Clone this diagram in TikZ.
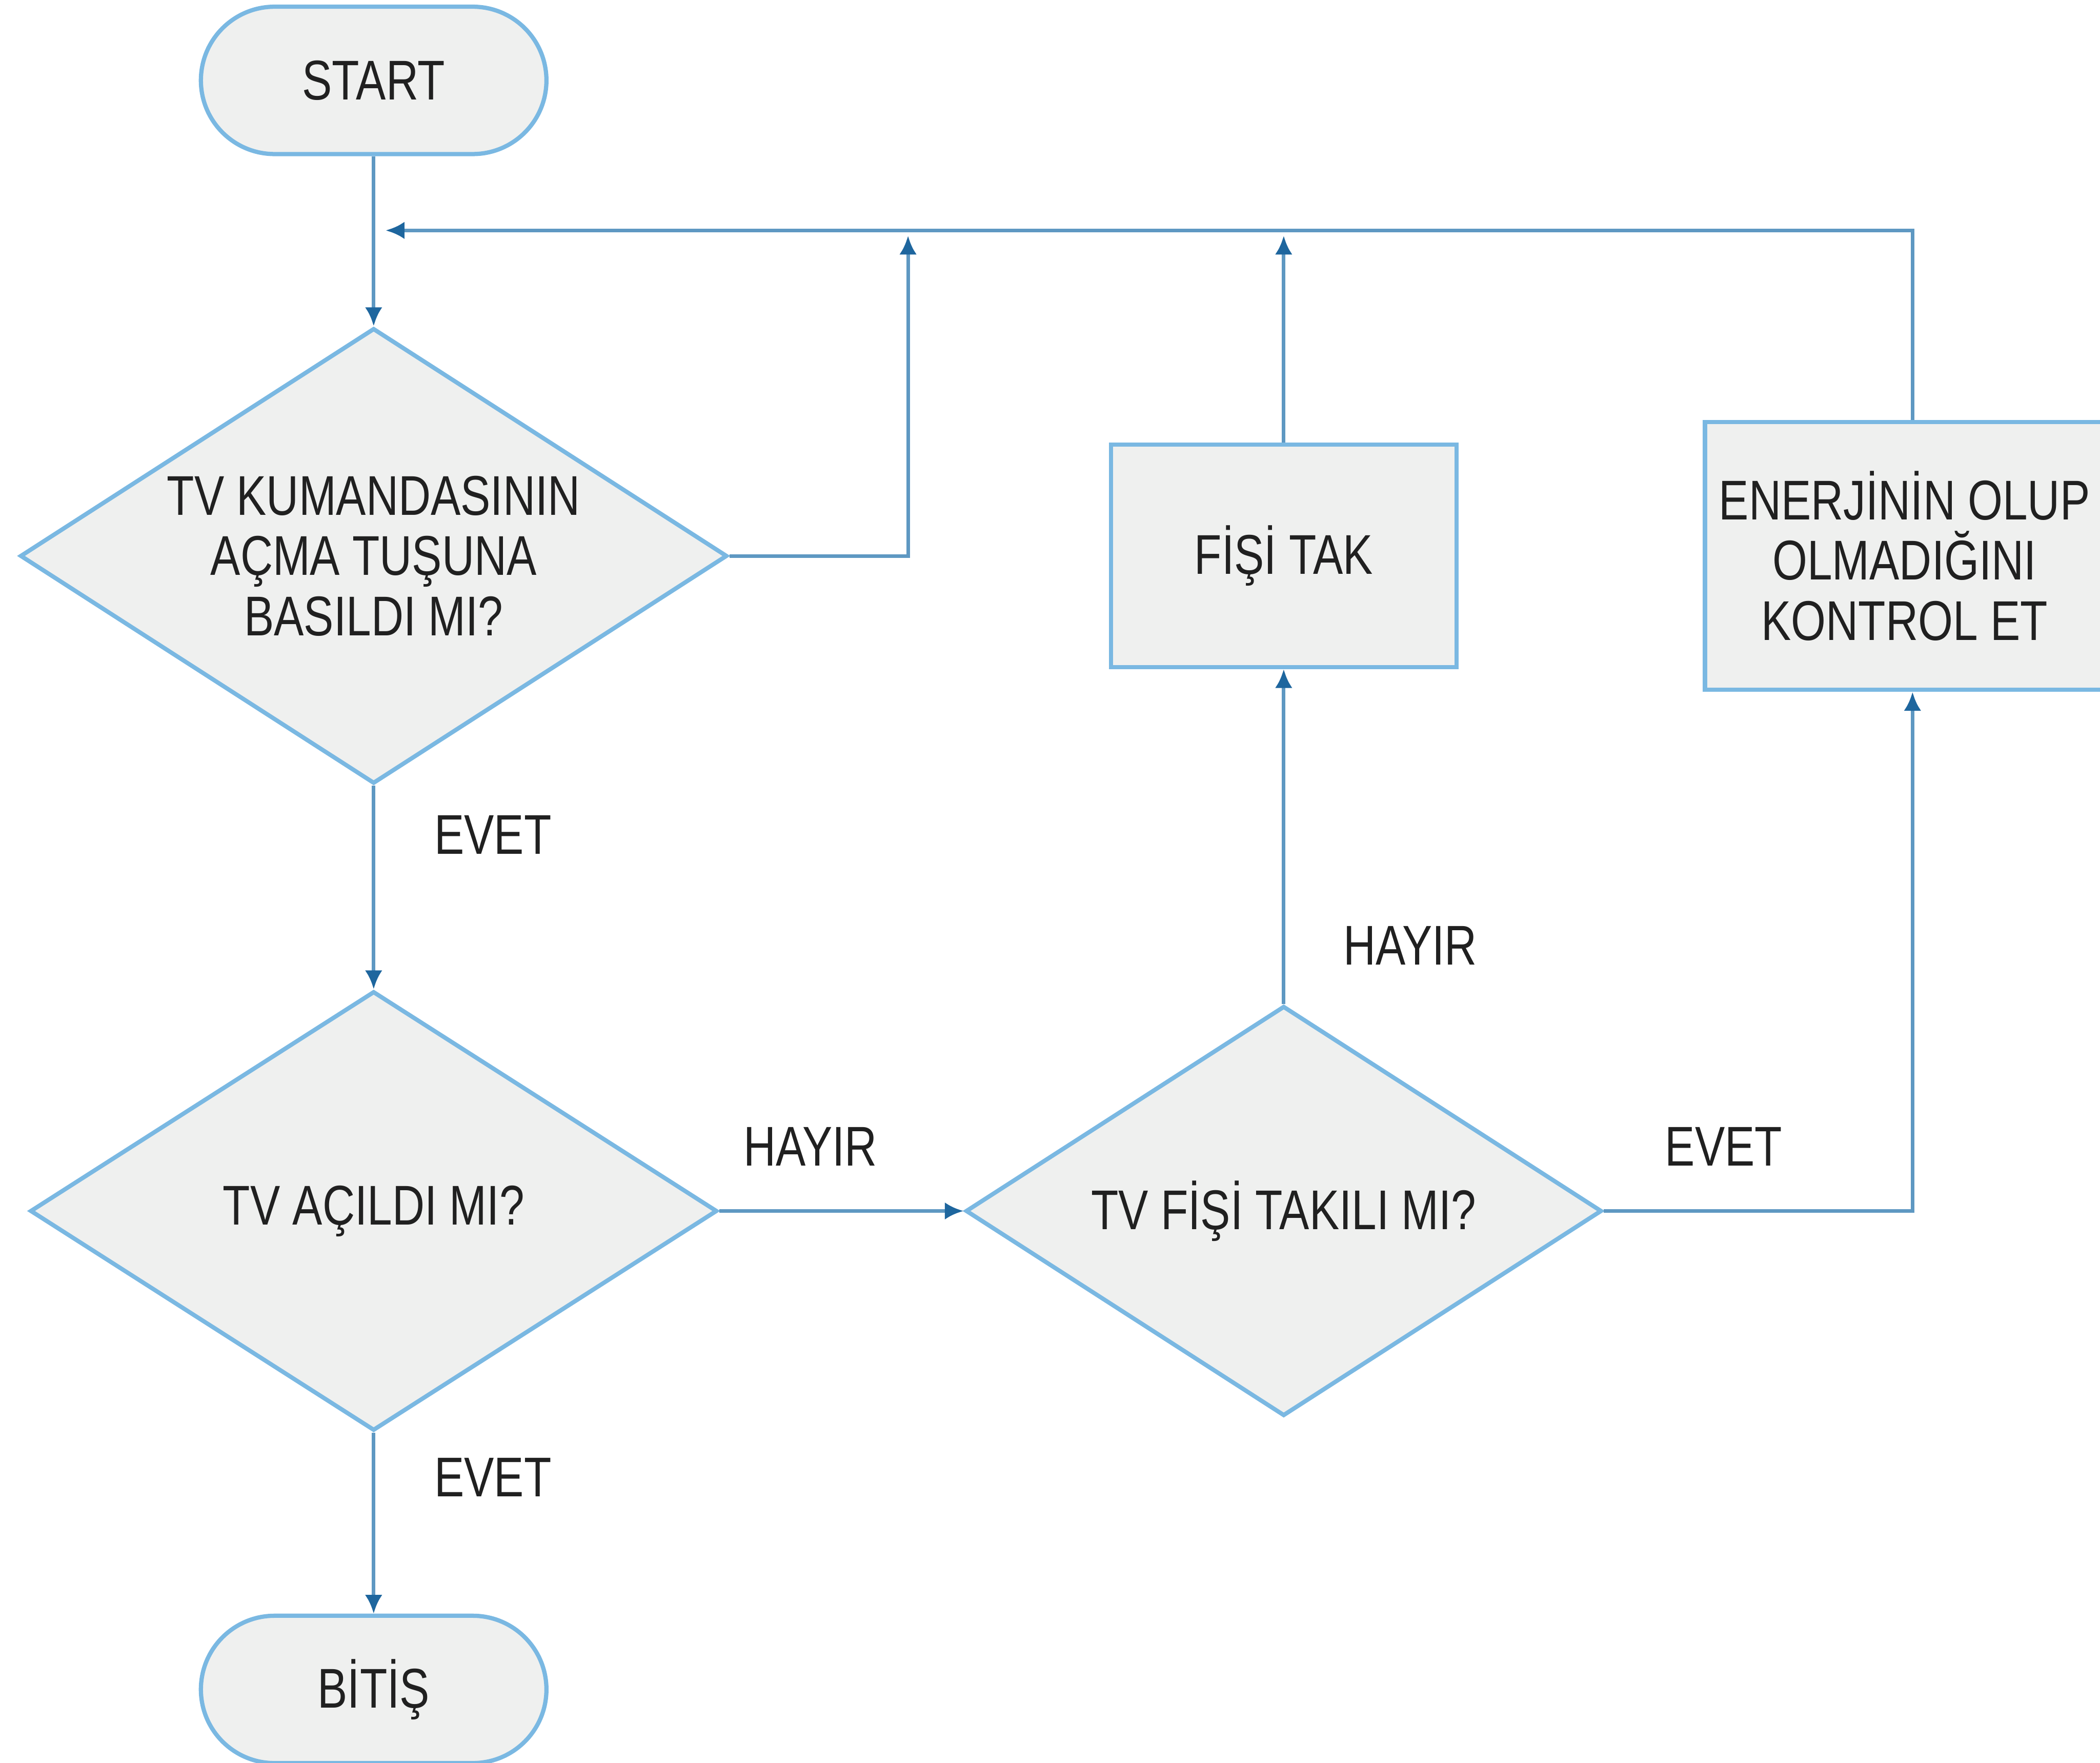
\documentclass[tikz,border=0pt]{standalone}
\usepackage{fontspec}
\setmainfont{Liberation Sans}[FakeStretch=0.8]
\usetikzlibrary{positioning,shapes.geometric,arrows.meta}
\definecolor{shapefill}{RGB}{239,240,239}
\definecolor{shapeline}{RGB}{122,184,226}
\definecolor{connline}{RGB}{94,152,194}
\definecolor{tipblue}{RGB}{30,102,158}
\definecolor{textgray}{RGB}{32,32,32}

\begin{document}
\begin{tikzpicture}[
base/.style={draw=shapeline,fill=shapefill,line width=0.9pt,text=textgray,align=center,
    font=\fontsize{11.9}{12.8}\selectfont},
term/.style={base,rectangle,rounded corners=0.55cm,minimum width=2.58cm,minimum height=1.10cm},
decision/.style={base,diamond,aspect=1.55,inner sep=0pt},
box/.style={base,rectangle,inner sep=2pt},
lbl/.style={text=textgray,font=\fontsize{11.9}{12.8}\selectfont,inner sep=0pt},
arr/.style={draw=connline,line width=0.75pt,-{Latex[length=1.4mm,width=1.3mm,color=tipblue]}}]
\useasboundingbox (0,0) rectangle (15.68,-13.16);

\node[term] (start) at (2.79,-0.60) {START};
\node[decision,minimum width=5.28cm,minimum height=3.40cm] (q1) at (2.79,-4.15)
    {TV KUMANDASININ\\AÇMA TUŞUNA\\BASILDI MI?};
\node[decision,minimum width=5.13cm,minimum height=3.28cm] (q2) at (2.79,-9.04) {TV AÇILDI MI?};
\node[term,below=1.35cm of q2] (bitis) {BİTİŞ};
\node[decision,minimum width=4.75cm,minimum height=3.06cm] (q3) at (9.585,-9.04) {TV FİŞİ TAKILI MI?};
\node[box,minimum width=2.58cm,minimum height=1.66cm] (fis) at (9.585,-4.15) {FİŞİ TAK};
\node[box,minimum width=2.98cm,minimum height=2.00cm] (enerji) at (14.22,-4.15)
    {ENERJİNİN OLUP\\OLMADIĞINI\\KONTROL ET};

\coordinate (ret) at (2.88,-1.72);
\coordinate (up1) at (6.78,-1.76);
\coordinate (up2) at (9.585,-1.76);

\draw[arr] (start) -- (q1);
\draw[arr] (q1) -- (q2);
\draw[arr] (q2) -- (bitis);
\draw[arr] (q2.east) -- (q3.west);
\draw[arr] (q3) -- (fis);
\draw[arr] (q3.east) -| ([xshift=0.06cm]enerji.south);
\draw[arr] ([xshift=0.06cm]enerji.north) |- (ret);
\draw[arr] (fis.north) -- (up2);
\draw[arr] (q1.east) -| (up1);

\node[lbl] (evet1) at (3.68,-6.23) {EVET};
\node[lbl] (evet2) at (3.68,-11.03) {EVET};
\node[lbl] (hayir1) at (6.05,-8.56) {HAYIR};
\node[lbl] (hayir2) at (10.53,-7.06) {HAYIR};
\node[lbl] (evet3) at (12.87,-8.56) {EVET};
\end{tikzpicture}
\end{document}
